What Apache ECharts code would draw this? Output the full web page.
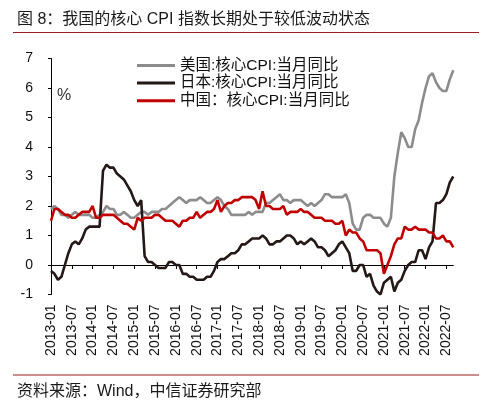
<!DOCTYPE html>
<html><head><meta charset="utf-8">
<script src="https://cdn.jsdelivr.net/npm/echarts@6/dist/echarts.min.js"></script>
<style>html,body{margin:0;padding:0;background:#fff}#c{width:503px;height:412px}</style>
</head><body><div id="c"></div>
<script>
// Month categories 2013-01 .. 2022-09
const startYear = 2013, endYear = 2022, endMonth = 9;
const months = [];
for (let y = startYear; y <= endYear; y++) {
  for (let m = 1; m <= 12; m++) {
    if (y === endYear && m > endMonth) break;
    months.push(y + '-' + (m < 10 ? '0' + m : m));
  }
}
const usCore = [
  1.9,2.0,1.9,1.7,1.7,1.6,1.7,1.8,1.7,1.7,1.7,1.7,
  1.6,1.6,1.7,1.8,2.0,1.9,1.9,1.7,1.7,1.8,1.7,1.6,
  1.6,1.7,1.8,1.8,1.7,1.8,1.8,1.8,1.9,1.9,2.0,2.1,
  2.2,2.3,2.2,2.1,2.2,2.2,2.2,2.3,2.2,2.1,2.1,2.2,
  2.3,2.2,2.0,1.9,1.7,1.7,1.7,1.7,1.7,1.8,1.7,1.8,
  1.8,1.8,2.1,2.1,2.2,2.3,2.4,2.2,2.2,2.1,2.2,2.2,
  2.2,2.1,2.0,2.1,2.0,2.1,2.2,2.4,2.4,2.3,2.3,2.3,
  2.3,2.4,2.1,1.4,1.2,1.2,1.6,1.7,1.7,1.6,1.6,1.6,
  1.4,1.3,1.6,3.0,3.8,4.5,4.3,4.0,4.0,4.6,4.9,5.5,
  6.0,6.4,6.5,6.2,6.0,5.9,5.9,6.3,6.6
];
const jpCore = [
  -0.2,-0.3,-0.5,-0.4,0.0,0.4,0.7,0.8,0.7,0.9,1.2,1.3,
  1.3,1.3,1.3,3.2,3.4,3.3,3.3,3.1,3.0,2.9,2.7,2.5,
  2.2,2.0,2.2,0.3,0.1,0.1,0.0,-0.1,-0.1,-0.1,0.1,0.1,
  0.0,0.0,-0.3,-0.3,-0.4,-0.4,-0.5,-0.5,-0.5,-0.4,-0.4,-0.2,
  0.1,0.2,0.2,0.3,0.4,0.4,0.5,0.7,0.7,0.8,0.9,0.9,
  0.9,1.0,0.9,0.7,0.7,0.8,0.8,0.9,1.0,1.0,0.9,0.7,
  0.8,0.7,0.8,0.9,0.8,0.6,0.6,0.5,0.3,0.4,0.5,0.7,
  0.8,0.6,0.4,-0.2,-0.2,0.0,0.0,-0.4,-0.3,-0.7,-0.9,-1.0,
  -0.6,-0.5,-0.4,-0.9,-0.6,-0.5,-0.2,0.0,0.1,0.1,0.5,0.5,
  0.2,0.6,0.8,2.1,2.1,2.2,2.4,2.8,3.0
];
const cnCore = [
  1.5,1.9,1.9,1.8,1.7,1.7,1.6,1.6,1.7,1.8,1.8,1.8,
  2.0,1.6,1.6,1.7,1.7,1.7,1.7,1.6,1.5,1.4,1.4,1.3,
  1.2,1.6,1.5,1.6,1.6,1.6,1.7,1.7,1.6,1.5,1.5,1.5,
  1.4,1.3,1.5,1.5,1.6,1.6,1.8,1.6,1.7,1.8,1.8,1.9,
  2.2,1.8,2.0,2.1,2.1,2.2,2.2,2.3,2.3,2.3,2.3,2.2,
  1.9,2.5,2.0,2.0,1.9,1.9,1.9,2.0,1.7,1.8,1.8,1.8,
  1.9,1.8,1.8,1.7,1.6,1.6,1.6,1.5,1.5,1.5,1.4,1.4,
  1.5,1.0,1.2,1.1,1.1,0.9,0.8,0.5,0.5,0.5,0.5,0.4,
  -0.3,0.0,0.3,0.7,0.9,0.9,1.3,1.2,1.2,1.3,1.2,1.2,
  1.2,1.1,1.1,0.9,0.9,1.0,0.8,0.8,0.6
];
const seriesNames = ['美国:核心CPI:当月同比', '日本:核心CPI:当月同比', '中国：核心CPI:当月同比'];
const seriesColors = ['#8c8c8c', '#231815', '#c00000'];
const titleText = '图 8：我国的核心 CPI 指数长期处于较低波动状态';
const sourceText = '资料来源：Wind，中信证券研究部';

const FONT = '"Liberation Sans", Arial, "Noto Sans CJK SC", sans-serif';
const chart = echarts.init(document.getElementById('c'), null, {renderer: 'canvas'});
const dataSets = [usCore, jpCore, cnCore];
chart.setOption({
  animation: false,
  backgroundColor: '#fff',
  textStyle: {fontFamily: FONT},
  grid: {left: 51, right: 49.7, top: 58.5, bottom: 117.5, containLabel: false},
  legend: {
    orient: 'vertical', left: 132, top: 52.5,
    itemWidth: 38, itemHeight: 3, itemGap: 1.6,
    icon: 'rect',
    textStyle: {fontSize: 15.5, color: '#111', fontFamily: FONT, lineHeight: 16},
    data: seriesNames.map((n, i) => ({name: n, itemStyle: {color: seriesColors[i]}}))
  },
  xAxis: [{
    type: 'category', data: months, boundaryGap: false, position: 'bottom',
    axisLine: {show: true, onZero: true, lineStyle: {color: '#000', width: 1}},
    axisTick: {show: true, interval: 5, length: 4, lineStyle: {color: '#000'}},
    axisLabel: {show: false},
    splitLine: {show: false}
  }, {
    type: 'category', data: months, boundaryGap: false, position: 'bottom',
    axisLine: {show: false, onZero: false},
    axisTick: {show: false},
    axisLabel: {show: true, interval: 5, rotate: 90, margin: 10, fontSize: 14, color: '#111', fontFamily: FONT},
    splitLine: {show: false}
  }],
  yAxis: {
    type: 'value', min: -1, max: 7, interval: 1,
    axisLine: {show: true, lineStyle: {color: '#000', width: 1}},
    axisTick: {show: true, length: 3, lineStyle: {color: '#000'}},
    axisLabel: {fontSize: 14, color: '#111', margin: 18, fontFamily: FONT},
    splitLine: {show: false}
  },
  series: seriesNames.map((n, i) => ({
    name: n, type: 'line', xAxisIndex: 0, data: dataSets[i],
    symbol: 'none', smooth: false,
    lineStyle: {color: seriesColors[i], width: 2.6},
    itemStyle: {color: seriesColors[i]}
  })),
  graphic: [
    {type: 'text', left: 17, top: 12, style: {text: titleText, font: '16px ' + FONT, fill: '#1a1a1a'}},
    {type: 'line', shape: {x1: 13, y1: 32.5, x2: 479, y2: 32.5}, style: {stroke: '#9b1c1f', lineWidth: 1}},
    {type: 'text', left: 57, top: 88, style: {text: '%', font: '16px ' + FONT, fill: '#333'}},
    {type: 'line', shape: {x1: 13, y1: 375, x2: 479, y2: 375}, style: {stroke: '#9b1c1f', lineWidth: 1}},
    {type: 'text', left: 17, top: 384, style: {text: sourceText, font: '16px ' + FONT, fill: '#1a1a1a'}}
  ]
});
</script>
</body></html>
